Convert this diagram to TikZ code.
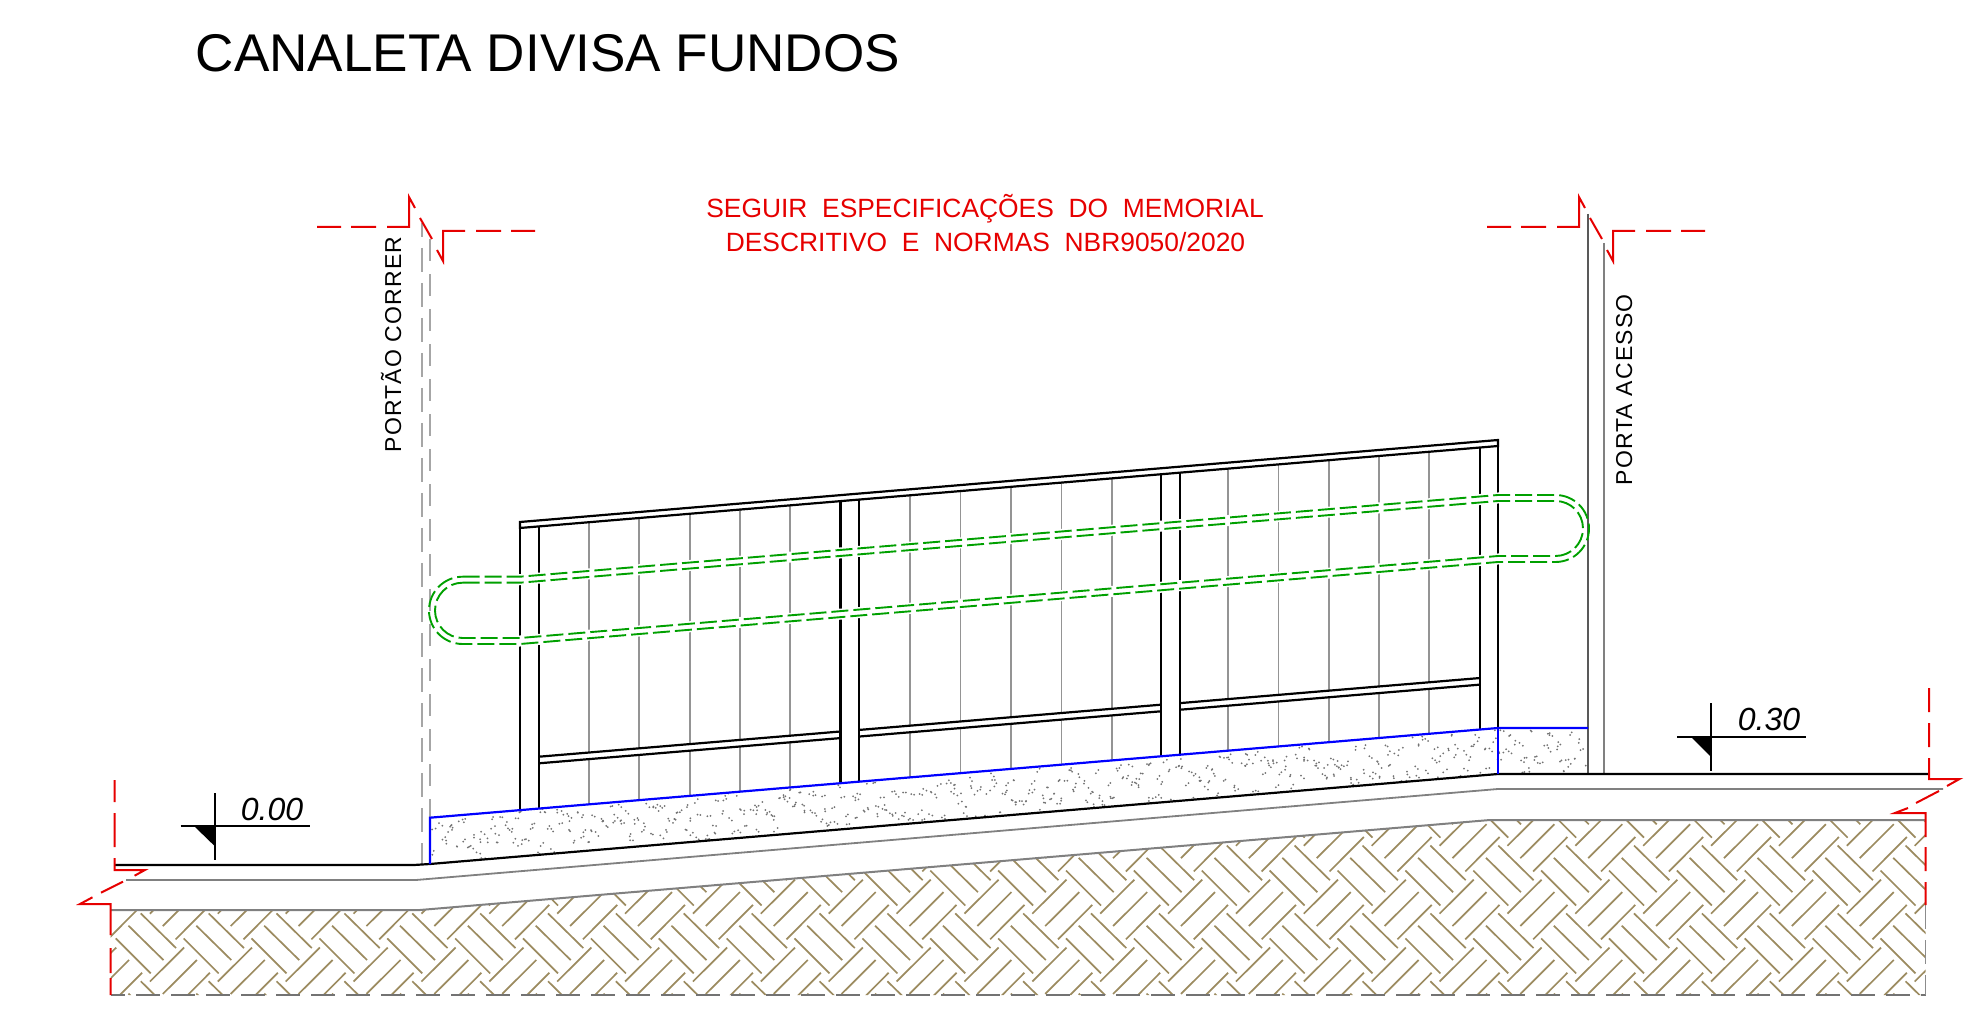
\documentclass[tikz,border=0pt]{standalone}
\usepackage{fontspec}
\setmainfont{Liberation Sans}
\newfontfamily\spacedfont[LetterSpace=5]{Liberation Sans}
\definecolor{cadred}{RGB}{230,0,0}
\definecolor{cadgreen}{RGB}{0,160,0}
\definecolor{cadblue}{RGB}{0,0,255}
\definecolor{soilbrown}{RGB}{156,139,96}
\tikzset{
  blackline/.style={black,line width=1.1pt},
  barline/.style={black!42,line width=0.9pt},
  redline/.style={cadred,line width=1pt,line join=miter},
  blueline/.style={cadblue,line width=1.1pt},
  greenline/.style={cadgreen,line width=0.95pt,dash pattern=on 8.5pt off 2.5pt},
  hatchline/.style={soilbrown,line width=0.85pt},
  levelline/.style={black,line width=0.9pt},
  leveltext/.style={font=\itshape\fontsize{16}{18}\selectfont,anchor=base,inner sep=0pt},
  sidetext/.style={font=\spacedfont\fontsize{11.5}{14}\selectfont,rotate=90,anchor=base,inner sep=0pt},
  notetext/.style={text=cadred,font=\fontsize{13.2}{15}\selectfont,anchor=base,inner sep=0pt}
}
\begin{document}
\begin{tikzpicture}[x=0.5pt,y=-0.5pt]
\useasboundingbox (0,0) rectangle (1977,1021);

% soil hatch
\begin{scope}
\clip (110.5,910) -- (420,910) -- (1490,820) -- (1925.6,820) -- (1925.6,995) -- (110.5,995) -- cycle;
\foreach \i in {-22,...,6}{
  \foreach \j in {-2,...,3}{
    \begin{scope}[shift={({1600+67.875*\i},{809.5+67.875*\j})}]
      \draw[hatchline] (35.3,27.5) -- (1,62) (22.3,14.7) -- (-11.8,48.7) (9.5,2.3) -- (-24.7,36.3)
        (34,36) -- (69.3,70.7) (21.7,48.3) -- (56.7,82.7) (9,61) -- (44,96);
    \end{scope}
  }
}
\end{scope}

% ground layers
\draw[black!50,line width=1pt] (110.5,910) -- (420,910) -- (1490,820) -- (1925.6,820);
\draw[black!50,line width=0.9pt] (126,880) -- (416,880) -- (1498,789) -- (1943,789);
\draw[black!55,line width=0.8pt,dash pattern=on 12pt off 5.5pt,dash phase=4.75pt] (110.5,995) -- (1925.6,995);
\draw[black!45,line width=0.6pt,dash pattern=on 12pt off 5.5pt] (1925.6,905) -- (1925.6,995);

% concrete stipple
\begin{scope}
\clip (430,817.7) -- (1498,728) -- (1588,728) -- (1588,774) -- (1498,774) -- (430,864) -- cycle;
\pgfmathsetseed{2024}
\foreach \k in {0,...,399}{
  \pgfmathsetmacro{\px}{432+(\k+rnd)*2.885}
  \pgfmathsetmacro{\py}{(\px<1498?817.7-0.084*(\px-430):728)+2+rnd*43}
  \pgfmathsetmacro{\ax}{\px+8*(rnd-0.5)}
  \pgfmathsetmacro{\ay}{\py+8*(rnd-0.5)}
  \fill[black!55] (\px,\py) circle[radius=0.5pt] (\ax,\ay) circle[radius=0.5pt];
}
\end{scope}

% gray bars
\foreach \bx in {589,639.3,689.7,740,790,910,960.5,1011,1061.5,1112,1228,1278.4,1328.7,1379,1429}{
  \pgfmathsetmacro{\ya}{528-0.0838*(\bx-520)}
  \pgfmathsetmacro{\yb}{756.7-0.0836*(\bx-539)}
  \pgfmathsetmacro{\yc}{\yb+6.6}
  \pgfmathsetmacro{\yd}{817.7-0.084*(\bx-430)}
  \draw[barline] (\bx,\ya) -- (\bx,\yb) (\bx,\yc) -- (\bx,\yd);
}

% fence frame
\draw[blackline] (520,528) -- (520,522) -- (1498,440) -- (1498,446) -- cycle;
\foreach \qx in {520,539,840.5,859,1161,1180,1480,1498}{
  \pgfmathsetmacro{\ya}{528-0.0838*(\qx-520)}
  \pgfmathsetmacro{\yd}{817.7-0.084*(\qx-430)}
  \draw[blackline] (\qx,\ya) -- (\qx,\yd);
}
\foreach \ra/\rb in {539/840.5,859/1161,1180/1480}{
  \pgfmathsetmacro{\ya}{756.7-0.0836*(\ra-539)}
  \pgfmathsetmacro{\yb}{756.7-0.0836*(\rb-539)}
  \pgfmathsetmacro{\yc}{\ya+6.6}
  \pgfmathsetmacro{\yd}{\yb+6.6}
  \draw[blackline] (\ra,\ya) -- (\rb,\yb) (\ra,\yc) -- (\rb,\yd);
}

% door lines
\draw[black!35,line width=0.7pt] (422,223) -- (422,237);
\draw[black!35,line width=0.7pt,dash pattern=on 12pt off 5.5pt] (422,248) -- (422,865);
\draw[black!35,line width=0.8pt,dash pattern=on 11pt off 6.5pt] (430,239) -- (430,817);
\draw[black!65,line width=0.7pt] (1588,214) -- (1588,774);
\draw[black!50,line width=1pt] (1604,243) -- (1604,774);

% handrail
\draw[white,line width=5.5pt] (515,580) -- (520,579.7) -- (1498,498) -- (1503,498);
\draw[white,line width=5.5pt] (515,641) -- (520,641) -- (1498,559) -- (1503,559);
\draw[greenline] (462.6,576.7) -- (520,576.7) -- (1498,495) -- (1555.5,495)
  .. controls (1574,495) and (1589,510) .. (1589,528.5)
  .. controls (1589,547) and (1574,562) .. (1555.5,562)
  -- (1498,562) -- (520,644) -- (462.6,644)
  .. controls (444,644) and (429,628.9) .. (429,610.4)
  .. controls (429,591.9) and (444,576.7) .. (462.6,576.7);
\draw[greenline] (462.6,582.7) -- (520,582.7) -- (1498,501) -- (1555.5,501)
  .. controls (1570.7,501) and (1583,513.3) .. (1583,528.5)
  .. controls (1583,543.7) and (1570.7,556) .. (1555.5,556)
  -- (1498,556) -- (520,638) -- (462.6,638)
  .. controls (447.4,638) and (435,625.6) .. (435,610.4)
  .. controls (435,595.2) and (447.4,582.7) .. (462.6,582.7);

% ground line and curb
\draw[blackline] (114.7,865) -- (414,865) -- (430,864) -- (1498,774) -- (1929,774);
\draw[blueline] (430,864) -- (430,817.7) -- (1498,728) -- (1588,728);
\draw[blueline] (1498,728) -- (1498,774);

% red break lines, top
\foreach \dx in {0,1170}{
  \begin{scope}[shift={(\dx,0)}]
    \draw[redline] (317,227) -- (341,227) (351,227) -- (376,227) (387,227) -- (409,227) -- (409,197) -- (415,208);
    \draw[redline] (420,218) -- (432,239);
    \draw[redline] (437,250) -- (443,261) -- (443,231) -- (465,231) (476,231) -- (501,231) (511,231) -- (535,231);
  \end{scope}
}
% red break lines, left
\draw[redline] (114.7,780) -- (114.7,802) (114.7,813) -- (114.7,847) (114.7,858) -- (114.7,870) -- (144.9,870) -- (134.6,875.7);
\draw[redline] (123,881.7) -- (101,892.7);
\draw[redline] (92.5,897.3) -- (80,904) -- (110.5,904) -- (110.5,935) (110.5,948) -- (110.5,973) (110.5,978) -- (110.5,995);
% red break lines, right
\draw[redline] (1929,688) -- (1929,712) (1929,723) -- (1929,747) (1929,758) -- (1929,779) -- (1959.5,779) -- (1947,786);
\draw[redline] (1939,791) -- (1916,803);
\draw[redline] (1908,808) -- (1895,813) -- (1925.6,813) -- (1925.6,837) (1925.6,847) -- (1925.6,871) (1925.6,882) -- (1925.6,905);

% level marks
\draw[levelline] (214.6,793) -- (214.6,860);
\draw[levelline] (180.5,826) -- (309.5,826);
\fill[black] (194,826) -- (214.6,826) -- (214.6,846) -- cycle;
\node[leveltext] (levelzero) at (272,820) {0.00};
\draw[levelline] (1711,703) -- (1711,771);
\draw[levelline] (1677,737) -- (1805.6,737);
\fill[black] (1691,737) -- (1711,737) -- (1711,757) -- cycle;
\node[leveltext] (levelthirty) at (1769,730) {0.30};

% texts
\node[anchor=base west,inner sep=0pt,font=\fontsize{26.55}{30}\selectfont] (title) at (195.5,71.7) {CANALETA DIVISA FUNDOS};
\node[notetext] (noteone) at (985,218) {SEGUIR~~ESPECIFICAÇÕES~~DO~~MEMORIAL};
\node[notetext] (notetwo) at (985.5,251.5) {DESCRITIVO~~E~~NORMAS~~NBR9050/2020};
\node[sidetext] (gate) at (401,344.5) {PORTÃO CORRER};
\node[sidetext] (door) at (1632,390) {PORTA ACESSO};
\end{tikzpicture}
\end{document}
